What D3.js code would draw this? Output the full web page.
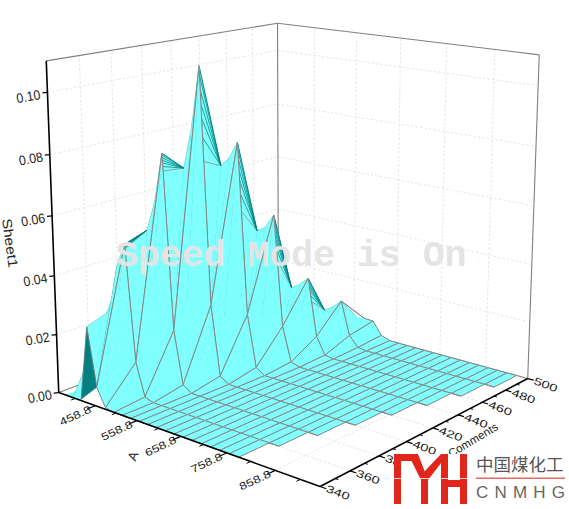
<!DOCTYPE html>
<html><head><meta charset="utf-8">
<script src="https://cdn.jsdelivr.net/npm/d3@7"></script>
<style>html,body{margin:0;padding:0;background:#fff}svg{display:block}</style>
</head><body><div id="c"></div>
<script>
const xGrid = [384,404,424,444,464,484,504,524,544,564,584,604,624,644,664,684,704,724,744,764,784,804,824,844,864,884,904,924];
const ribY = [340,360,380,400,420,440,460,480,500];
const rib340 = [0,0,.0005,.026,.0065,.0006,0,0,0,0,0,0,0,0,0,0,0,0,0,0,0];
const rib360 = [0,.022,.027,.043,.051,.012,.001,0,0,0,0,0,0,0,0,0,0,0,0,0,0,0];
const rib380 = [.036,.042,.045,.052,.062,.079,.02,.002,0,0,0,0,0,0,0,0,0,0,0,0,0,0,0];
const rib400 = [.035,.048,.055,.062,.071,.085,.106,.026,.002,0,0,0,0,0,0,0,0,0,0,0,0,0,0,0];
const rib420 = [.02,.03,.04,.05,.06,.07,.073,.079,.02,.002,0,0,0,0,0,0,0,0,0,0,0,0,0,0,0];
const rib440 = [.01,.018,.022,.028,.034,.04,.045,.047,.052,.013,.001,0,0,0,0,0,0,0,0,0,0,0,0,0,0,0];
const rib460 = [.004,.008,.011,.014,.016,.018,.02,.022,.024,.027,.0065,.0005,0,0,0,0,0,0,0,0,0,0,0,0,0,0,0];
const rib480 = [.002,.004,.005,.006,.007,.008,.009,.01,.011,.013,.016,.004,.0004,0,0,0,0,0,0,0,0,0,0,0,0,0,0,0];
const rib500 = [.001,.002,.0025,.003,.0033,.0036,.0039,.0042,.0046,.0056,.0059,.0058,.0012,.0001,0,0,0,0,0,0,0,0,0,0,0,0,0,0];
const ribs = [rib340,rib360,rib380,rib400,rib420,rib440,rib460,rib480,rib500];
const xTicks = [458.8,558.8,658.8,758.8,858.8];
const xMinor = [408.8,508.8,608.8,708.8,808.8,908.8];
const yTicks = [340,360,380,400,420,440,460,480,500];
const yMinor = [350,370,390,410,430,450,470,490];
const zTicks = [0,.02,.04,.06,.08,.10];
const zLabels = ["0.00","0.02","0.04","0.06","0.08","0.10"];
const fanSteps = [.1,.25,.4,.55,.75,1];
const fanReach = [0,.04,.1,.4,.4,.4,.4,0,0];
const watermark = "Speed Mode is On";

const W=569,H=509;
const svg=d3.select("#c").append("svg").attr("width",W).attr("height",H).attr("viewBox",`0 0 ${W} ${H}`);
const xS=d3.scaleLinear().domain([367,947]).range([0,1]);
const yS=d3.scaleLinear().domain([340,500]).range([0,1]);
const zS=d3.scaleLinear().domain([0,.11]).range([0,1]);

// perspective camera fitted to the box corners
const anchors=[[0,0,0,59,392],[1,0,0,320,487],[1,1,0,528,378],[0,1,0,278,311],[0,0,1,46,61],[0,1,1,278,23],[1,1,1,539,55]];
function fit(){
  const A=[],b=[];
  anchors.forEach(([u,v,w,px,py])=>{
    A.push([u,v,w,1,0,0,0,0,-px*u,-px*v,-px*w]);b.push(px);
    A.push([0,0,0,0,u,v,w,1,-py*u,-py*v,-py*w]);b.push(py);
  });
  const n=11,M=d3.range(n).map(i=>d3.range(n+1).map(j=>{
    let s=0;A.forEach((r,k)=>{s+=r[i]*(j<n?r[j]:b[k]);});return s;}));
  for(let i=0;i<n;i++){
    let p=i;for(let r=i+1;r<n;r++)if(Math.abs(M[r][i])>Math.abs(M[p][i]))p=r;
    [M[i],M[p]]=[M[p],M[i]];
    for(let r=0;r<n;r++){if(r===i)continue;const f=M[r][i]/M[i][i];for(let c=i;c<=n;c++)M[r][c]-=f*M[i][c];}
  }
  return M.map((r,i)=>r[n]/r[i]);
}
const C=fit();
function P(x,y,z){
  const u=xS(x),v=yS(y),w=zS(z);
  const d=C[8]*u+C[9]*v+C[10]*w+1;
  return [(C[0]*u+C[1]*v+C[2]*w+C[3])/d,(C[4]*u+C[5]*v+C[6]*w+C[7])/d];
}
const [x0,x1]=xS.domain(),[y0,y1]=yS.domain(),zTop=zS.domain()[1];
const seg=(g,a,b,stroke,sw,dash)=>g.append("line").attr("x1",a[0]).attr("y1",a[1]).attr("x2",b[0]).attr("y2",b[1])
  .attr("stroke",stroke).attr("stroke-width",sw).attr("stroke-dasharray",dash||null);

// grid
const grid=svg.append("g");
const gc="#e2e2e2",gd="2.5 2";
xTicks.forEach(x=>{seg(grid,P(x,y1,0),P(x,y1,zTop),gc,.9,gd);seg(grid,P(x,y0,0),P(x,y1,0),gc,.9,gd);});
yTicks.slice(1,-1).forEach(y=>{seg(grid,P(x0,y,0),P(x0,y,zTop),gc,.9,gd);seg(grid,P(x0,y,0),P(x1,y,0),gc,.9,gd);});
zTicks.slice(1).forEach(z=>{seg(grid,P(x0,y0,z),P(x0,y1,z),gc,.9,gd);seg(grid,P(x0,y1,z),P(x1,y1,z),gc,.9,gd);});

// frame
const fr=svg.append("g"),fc="#808080";
seg(fr,P(x0,y0,zTop),P(x0,y1,zTop),fc,1.1);
seg(fr,P(x0,y1,zTop),P(x1,y1,zTop),fc,1.1);
seg(fr,P(x0,y1,zTop),P(x0,y1,0),fc,1.1);
seg(fr,P(x1,y1,zTop),P(x1,y1,0),fc,1.1);
seg(fr,P(x0,y0,0),P(x0,y1,0),fc,1.1);
seg(fr,P(x0,y1,0),P(x1,y1,0),fc,1.1);

// surface, drawn back to front
const surf=svg.append("g");
const cyan="#80FFFF",teal="#008080",mesh="#858585";
const pline=d3.line();
function tri(a,b,c){
  const cr=(b[0]-a[0])*(c[1]-a[1])-(b[1]-a[1])*(c[0]-a[0]);
  const col=cr<0?cyan:teal;
  surf.append("path").attr("d",pline([a,b,c])+"Z").attr("fill",col).attr("stroke",col).attr("stroke-width",.4);
}
const mix=(a,b,t)=>[a[0]+(b[0]-a[0])*t,a[1]+(b[1]-a[1])*t];
const peakAt=ribs.map(r=>d3.maxIndex(r));
for(let j=ribs.length-2;j>=0;j--){
  const r0=ribs[j],r1=ribs[j+1],pk=peakAt[j],pkNext=peakAt[j+1];
  const n=Math.min(r0.length,r1.length);
  for(let i=0;i<n-1;i++){
    const a=P(xGrid[i],ribY[j],r0[i]),b=P(xGrid[i+1],ribY[j],r0[i+1]);
    const c=P(xGrid[i+1],ribY[j+1],r1[i+1]),d=P(xGrid[i],ribY[j+1],r1[i]);
    if(i===pk-1){
      // the notch behind a peak stays open: the crest falls to the far rib one column back
      tri(a,b,d);
    }else if(i===pk){
      const v=P(xGrid[i-1],ribY[j+1],r1[i-1]);
      tri(a,b,v);tri(b,d,v);tri(b,c,d);
      if(fanReach[j]>0){
        fanSteps.forEach((t,k)=>seg(surf,mix(a,b,t*fanReach[j]),v,k===fanSteps.length-1?mesh:teal,.75));
        seg(surf,a,v,teal,.9);
      }
    }else{
      tri(a,b,d);tri(b,c,d);
    }
    if(i>=pk)seg(surf,a,b,mesh,1);
    if(i>=pkNext)seg(surf,d,c,mesh,1);
    if(i>=pkNext)seg(surf,a,d,mesh,1);
    if(i+1>=pkNext)seg(surf,b,c,mesh,1);
  }
  for(let i=n-1;i<r1.length-1;i++){
    seg(surf,P(xGrid[i],ribY[j+1],r1[i]),P(xGrid[i+1],ribY[j+1],r1[i+1]),mesh,1);
  }
}
// the front rib shows its dark side around its crest
const front=[2,3,4].map(i=>P(xGrid[i],ribY[0],rib340[i]));
surf.append("path").attr("d",pline(front)+"Z").attr("fill",teal).attr("stroke",mesh).attr("stroke-width",.7);

// axes
const ax=svg.append("g");
seg(ax,P(x0,y0,0),P(x0,y0,zTop),"#000",1.6);
seg(ax,P(x0,y0,0),P(x1,y0,0),"#000",1.6);
seg(ax,P(x1,y0,0),P(x1,y1,0),"#000",1.6);
const font="Liberation Sans, Arial, sans-serif";
const txt=(px,py,s,rot,size,sx)=>ax.append("text").attr("transform",`translate(${px},${py}) rotate(${rot}) scale(${sx||1},1)`)
  .attr("text-anchor","middle").attr("dominant-baseline","central").attr("font-family",font)
  .attr("font-size",size).attr("fill","#222").text(s);
zTicks.forEach((z,i)=>{
  const p=P(x0,y0,z);seg(ax,p,[p[0]-5,p[1]+.5],"#000",1.2);
  txt(p[0]-19,p[1]+4,zLabels[i],-10,13.5,.92);
});
xTicks.forEach(x=>{
  const p=P(x,y0,0);seg(ax,p,P(x,y0-5,0),"#000",1.2);
  txt(p[0]-20,p[1]+10,x.toFixed(1),-25,10.5,1.28);
});
xMinor.forEach(x=>seg(ax,P(x,y0,0),P(x,y0-2.5,0),"#000",1));
yTicks.forEach(y=>{
  const p=P(x1,y,0);seg(ax,p,P(x1+12,y,0),"#000",1.2);
  txt(p[0]+18,p[1]+6,String(y),21,10.5,1.4);
});
yMinor.forEach(y=>seg(ax,P(x1,y,0),P(x1+6,y,0),"#000",1));
txt(10,243,"Sheet1",82,13.5,1.15);
txt(133,456,"A",-68,13);
txt(473,440,"Comments",-31,11.5);

// watermark
svg.append("text").attr("x",116).attr("y",266).attr("font-family","Liberation Mono, monospace").attr("font-weight","bold")
  .attr("font-size",36.5).attr("fill","#e4e4e4").text(watermark);

// logo
const lg=svg.append("g");
lg.append("rect").attr("x",394).attr("y",454).attr("width",175).attr("height",55).attr("fill","#fff");
const red="#e1261c";
[[394,454,7,50],[394,454,24,7],[421,478,7,26],[441,454,7,50],[460,454,7,50],[441,480,26,7]].forEach(r=>
  lg.append("rect").attr("x",r[0]).attr("y",r[1]).attr("width",r[2]).attr("height",r[3]).attr("fill",red));
[[[408,454],[418,454],[428,480],[421,480]],[[441,454],[448,454],[428,480],[424,472]]].forEach(q=>
  lg.append("path").attr("d",pline(q)+"Z").attr("fill",red));
lg.append("rect").attr("x",394).attr("y",478).attr("width",73).attr("height",1).attr("fill","#fff").attr("opacity",.8);
lg.append("text").attr("x",476).attr("y",471).attr("font-family","Noto Sans CJK SC").attr("font-size",17.5).attr("fill","#555").text("中国煤化工");
lg.append("rect").attr("x",476).attr("y",477.5).attr("width",89).attr("height",1.5).attr("fill","#e46a64");
lg.append("text").attr("x",476).attr("y",498).attr("font-family",font).attr("font-size",17).attr("fill","#666")
  .attr("textLength",89).attr("lengthAdjust","spacing").text("CNMHG");
</script></body></html>
